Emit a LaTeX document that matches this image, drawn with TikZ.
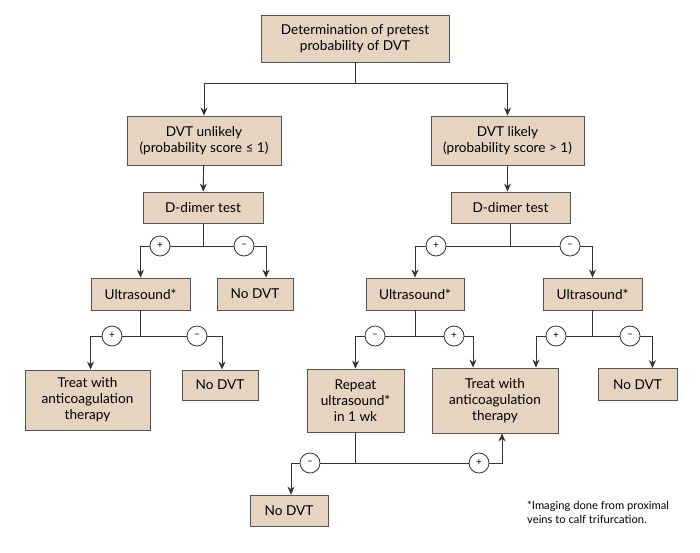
\documentclass[tikz,border=0pt]{standalone}
\usepackage{fontspec}
\setmainfont{Lato}
\usetikzlibrary{arrows.meta}
\definecolor{boxfill}{HTML}{E6D3C0}
\definecolor{boxline}{HTML}{555555}
\definecolor{lineC}{HTML}{333333}
\begin{document}
\begin{tikzpicture}[x=1pt,y=-1pt,
  box/.style={draw=boxline, fill=boxfill, line width=0.9pt, align=center,
    font=\fontsize{13.6}{16}\selectfont, inner sep=0pt},
  sign/.style={circle, draw=lineC, fill=white, line width=0.8pt, minimum size=20pt,
    inner sep=0pt, font=\fontsize{10}{10}\selectfont},
  conn/.style={draw=lineC, line width=0.9pt},
  arr/.style={conn, -{Stealth[length=8pt,width=7pt]}}]
\useasboundingbox (0,0) rectangle (700,552);
% boxes
\node[box, minimum width=188pt, minimum height=47pt] (top) at (355,38.5) {Determination of pretest\\probability of DVT};
\node[box, minimum width=154pt, minimum height=49pt] (unl) at (204,140.5) {DVT unlikely\\(probability score ≤ 1)};
\node[box, minimum width=153pt, minimum height=49pt] (lik) at (507.5,140.5) {DVT likely\\(probability score > 1)};
\node[box, minimum width=120pt, minimum height=31pt] (ddl) at (203,207.5) {D-dimer test};
\node[box, minimum width=119pt, minimum height=31pt] (ddr) at (510.5,207.5) {D-dimer test};
\node[box, minimum width=99pt, minimum height=32pt] (usl) at (140.5,294) {Ultrasound*};
\node[box, minimum width=76pt, minimum height=32pt] (ndl) at (255,294) {No DVT};
\node[box, minimum width=98pt, minimum height=32pt] (usm) at (415,294) {Ultrasound*};
\node[box, minimum width=99pt, minimum height=32pt] (usr) at (592.5,294) {Ultrasound*};
\node[box, minimum width=125pt, minimum height=60pt] (trl) at (87.5,400) {Treat with\\anticoagulation\\therapy};
\node[box, minimum width=76pt, minimum height=30pt] (nd2) at (220,385) {No DVT};
\node[box, minimum width=97pt, minimum height=63pt] (rep) at (355.5,400.5) {Repeat\\ultrasound*\\in 1 wk};
\node[box, minimum width=126pt, minimum height=65pt] (trm) at (495,400.5) {Treat with\\anticoagulation\\therapy};
\node[box, minimum width=79pt, minimum height=32pt] (nd3) at (637.5,384.5) {No DVT};
\node[box, minimum width=78pt, minimum height=31pt] (nd4) at (289,510.5) {No DVT};
\node[anchor=north west, align=left, inner sep=0pt, font=\fontsize{11.2}{14}\selectfont] (fn) at (527,501) {*Imaging done from proximal\\veins to calf trifurcation.};
% junctions
\coordinate (j1) at (355,83);
\coordinate (j2) at (203,246);
\coordinate (j3) at (510.5,246);
\coordinate (j4) at (140.5,336);
\coordinate (j5) at (415,336);
\coordinate (j6) at (592.5,336);
\coordinate (j7) at (355.5,463);
% connectors
\draw[conn] (top.south) -- (j1);
\draw[arr] (j1) -| (unl.north);
\draw[arr] (j1) -| (lik.north);
\draw[arr] (unl) -- (ddl);
\draw[arr] (lik.south) -- (lik.south |- ddr.north);
\draw[conn] (ddl.south) -- (j2);
\draw[arr] (j2) -| (usl.north);
\draw[arr] (j2) -| ([xshift=11pt]ndl.north);
\draw[conn] (ddr.south) -- (j3);
\draw[arr] (j3) -| (usm.north);
\draw[arr] (j3) -| (usr.north);
\draw[conn] (usl.south) -- (j4);
\draw[arr] (j4) -| ([xshift=3pt]trl.north);
\draw[arr] (j4) -| ([xshift=2pt]nd2.north);
\draw[conn] (usm.south) -- (j5);
\draw[arr] (j5) -| (rep.north);
\draw[arr] (j5) -| ([xshift=-22pt]trm.north);
\draw[conn] (usr.south) -- (j6);
\draw[arr] (j6) -| ([xshift=41pt]trm.north);
\draw[arr] (j6) -| ([xshift=15pt]nd3.north);
\draw[conn] (rep.south) -- (j7);
\draw[arr] (j7) -| ([xshift=2pt]nd4.north);
\draw[arr] (j7) -| ([xshift=7pt]trm.south);
% signs
\node[sign] (s1) at (160,246) {+};
\node[sign] (s2) at (244,246) {–};
\node[sign] (s3) at (436,246) {+};
\node[sign] (s4) at (570,246) {–};
\node[sign] (s5) at (112,336) {+};
\node[sign] (s6) at (197,336) {–};
\node[sign] (s7) at (375,336) {–};
\node[sign] (s8) at (454,336) {+};
\node[sign] (s9) at (556,336) {+};
\node[sign] (s10) at (630,336) {–};
\node[sign] (s11) at (310,463) {–};
\node[sign] (s12) at (479,463) {+};
\end{tikzpicture}
\end{document}
